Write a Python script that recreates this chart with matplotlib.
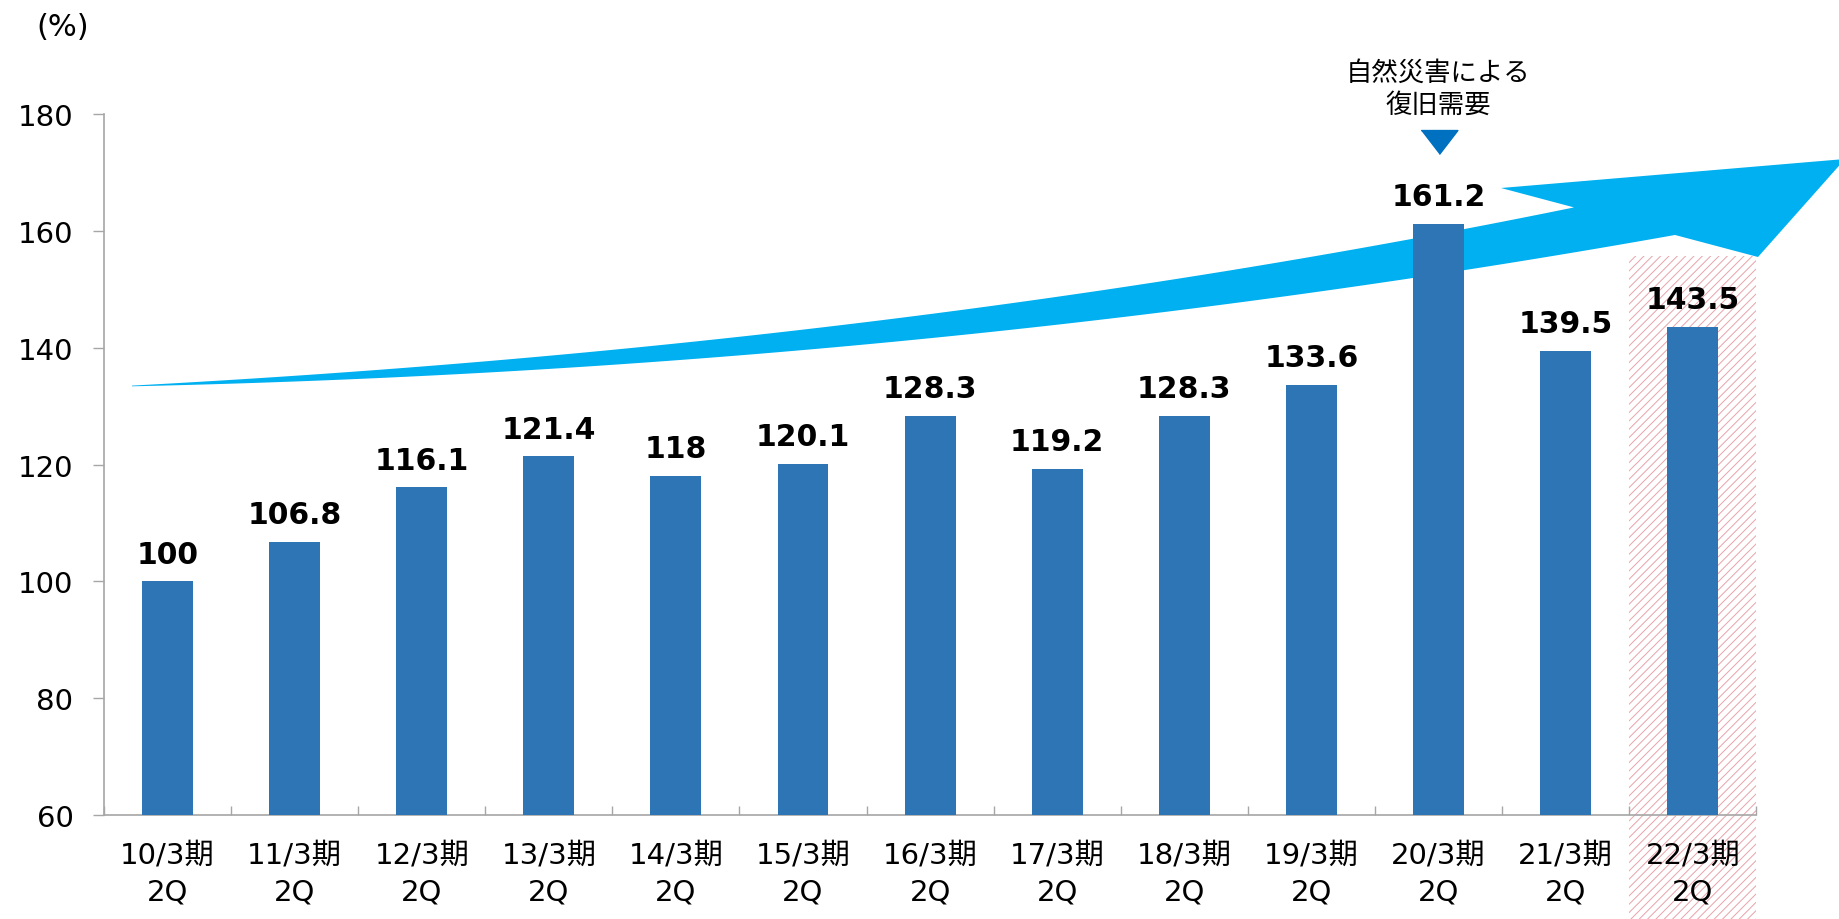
import matplotlib
matplotlib.use('Agg')
import matplotlib.pyplot as plt
from matplotlib.patches import Polygon, Rectangle
import numpy as np

plt.rcParams['font.family'] = ['DejaVu Sans', 'Noto Sans CJK JP']
plt.rcParams['hatch.linewidth'] = 0.7

# data
periods = ['10/3期', '11/3期', '12/3期', '13/3期', '14/3期', '15/3期', '16/3期',
           '17/3期', '18/3期', '19/3期', '20/3期', '21/3期', '22/3期']
quarter = '2Q'
values = [100, 106.8, 116.1, 121.4, 118, 120.1, 128.3, 119.2, 128.3, 133.6, 161.2, 139.5, 143.5]
y_ticks = [60, 80, 100, 120, 140, 160, 180]
note_text = '自然災害による\n復旧需要'
note_index = 10
highlight_index = 12

bar_color = '#2e75b6'
arrow_color = '#00b0f0'
axis_gray = '#a6a6a6'

fig = plt.figure(figsize=(18.4, 9.2), dpi=100)
ax = fig.add_axes([0.0565, 0.113, 0.898, 0.762])

x = np.arange(len(values))
ax.bar(x, values, width=0.40, color=bar_color, zorder=3)

ax.set_xlim(-0.5, len(values) - 0.5)
ax.set_ylim(60, 180)
ax.set_yticks(y_ticks)
ax.set_xticks(x)
ax.set_xticklabels([p + '\n' + quarter for p in periods], linespacing=1.45)
ax.set_xticks(np.arange(len(values) + 1) - 0.5, minor=True)

ax.tick_params(axis='y', labelsize=21, length=8, color=axis_gray, pad=14, width=1)
ax.tick_params(axis='x', which='major', labelsize=21, length=0, pad=18)
ax.tick_params(axis='x', which='minor', direction='in', length=6.5, color=axis_gray, width=1)

for s in ['top', 'right']:
    ax.spines[s].set_visible(False)
for s in ['left', 'bottom']:
    ax.spines[s].set_color(axis_gray)
    ax.spines[s].set_linewidth(1.2)

# value labels
for xi, v in zip(x, values):
    ax.annotate(f'{v:g}', (xi, v), xytext=(0, 13.5), textcoords='offset points',
                ha='center', va='baseline', fontsize=21.5, fontweight='bold', zorder=5)

# highlighted (forecast) column
ax.add_patch(Rectangle((highlight_index - 0.5, 40), 1.0, 115.7, facecolor='none',
                       edgecolor='#e8a3ab', hatch='////', linewidth=0,
                       clip_on=False, zorder=1))

# growth arrow, outline traced in figure pixels, edges smoothed
W, H = 1840, 920
upper_x = [132, 300, 600, 850, 1100, 1412, 1574]
upper_y = [387, 376, 351, 327, 291, 239, 209]
lower_x = [132, 300, 600, 850, 1100, 1412, 1675]
lower_y = [387, 383, 366, 347, 321, 279, 236]
ux = np.linspace(132, 1574, 80)
uy = np.polyval(np.polyfit(upper_x, upper_y, 3), ux)
lx = np.linspace(1675, 132, 80)
ly = np.polyval(np.polyfit(lower_x, lower_y, 3), lx)
head = [(1501, 189), (1845, 160), (1758, 258)]
outline = list(zip(ux, uy)) + head + list(zip(lx, ly))
pts = [(px / W, 1 - py / H) for px, py in outline]
ax.add_patch(Polygon(pts, closed=True, facecolor=arrow_color, edgecolor='none',
                     transform=fig.transFigure, clip_on=False, zorder=2))

# annotation for natural disaster demand
ax.plot([note_index], [175.2], marker=[(-1, 0.65), (1, 0.65), (0, -0.65)],
        markersize=26.5, color='#0070c0', clip_on=False, zorder=5)
ax.text(note_index, 184.3, note_text, ha='center', va='center', fontsize=19,
        linespacing=1.3, clip_on=False)

fig.text(63 / W, 1 - 27 / H, '(%)', ha='center', va='center', fontsize=22)

fig.savefig('out.png', dpi=100)
